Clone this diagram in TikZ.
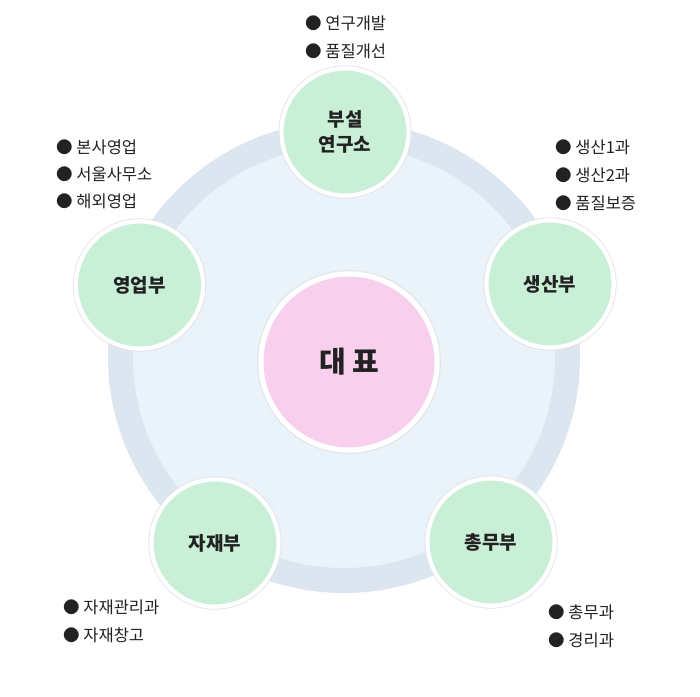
\documentclass[tikz,border=0pt]{standalone}
\usepackage{fontspec}
\setmainfont{Noto Sans CJK KR}
\definecolor{ringband}{HTML}{DCE6F0}
\definecolor{ringin}{HTML}{EAF2FA}
\definecolor{deptgreen}{HTML}{C9F0D6}
\definecolor{ceopink}{HTML}{F8D0EE}
\definecolor{edgegray}{HTML}{E4E4E4}
\definecolor{txt}{HTML}{222222}
\tikzset{
  dept/.style={circle, fill=deptgreen, draw=white, line width=4pt, minimum size=127pt, inner sep=0pt,
    font=\fontsize{19}{25}\selectfont\bfseries, text=txt, align=center},
  ceo/.style={circle, fill=ceopink, draw=white, line width=5pt, minimum size=176pt, inner sep=0pt,
    font=\fontsize{29}{32}\selectfont\bfseries, text=txt},
  item/.style={anchor=west, inner sep=0pt, font=\fontsize{16.5}{20}\selectfont, text=txt},
  halo/.style={draw=edgegray, line width=0.8pt}
}
\begin{document}
\begin{tikzpicture}[x=1pt,y=-1pt]
\useasboundingbox[fill=white] (0,0) rectangle (700,696);
% ring
\fill[ringband] (344,357) circle (236);
\fill[ringin] (344,357) circle (211);
% center
\draw[halo] (349,362) circle (91.5);
\node[ceo] (ceo) at (349,362) {대 표};
% departments
\foreach \x/\y in {345/132, 139.5/285, 550/284, 491/542, 215/543}{
  \draw[halo] (\x,\y) circle (66.2);
}
\node[dept] (lab) at (345,132) {부설\\연구소};
\node[dept] (sales) at (139.5,285) {영업부};
\node[dept] (prod) at (550,284) {생산부};
\node[dept] (admin) at (491,542) {총무부};
\node[dept] (mat) at (215,543) {자재부};
% lists
\node[item] (l1) at (305,23) {● 연구개발};
\node[item] (l2) at (305,51) {● 품질개선};
\node[item] (s1) at (56,147) {● 본사영업};
\node[item] (s2) at (56,174) {● 서울사무소};
\node[item] (s3) at (56,201) {● 해외영업};
\node[item] (p1) at (555,147) {● 생산1과};
\node[item] (p2) at (555,175) {● 생산2과};
\node[item] (p3) at (555,203) {● 품질보증};
\node[item] (m1) at (63,607) {● 자재관리과};
\node[item] (m2) at (63,635) {● 자재창고};
\node[item] (a1) at (548,612) {● 총무과};
\node[item] (a2) at (548,640) {● 경리과};
\end{tikzpicture}
\end{document}
